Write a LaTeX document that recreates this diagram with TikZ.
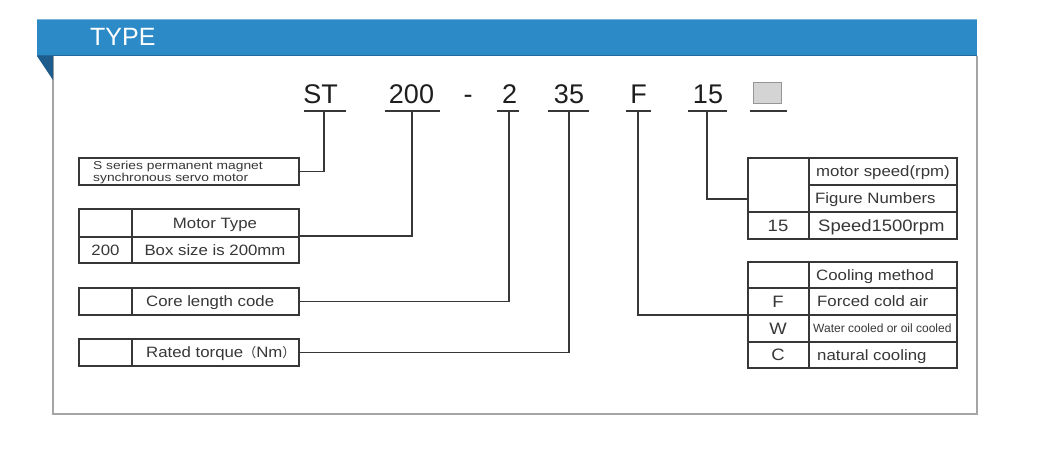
\documentclass[tikz,border=0pt]{standalone}
\usepackage{fontspec}
\setmainfont{Liberation Sans}
\newfontfamily\cellfont[FakeStretch=1.12]{Liberation Sans}
\newfontfamily\narrowfont[FakeStretch=1.2]{Liberation Sans}
\newfontfamily\cjkparen{Noto Sans CJK SC}
\definecolor{band}{RGB}{44,139,199}
\definecolor{bandtop}{RGB}{120,180,220}
\definecolor{banddark}{RGB}{30,92,140}
\definecolor{framegray}{RGB}{165,165,165}
\definecolor{ink}{RGB}{55,55,55}
\definecolor{codeink}{RGB}{30,30,30}
\definecolor{sqfill}{RGB}{212,212,212}
\definecolor{sqdraw}{RGB}{150,150,150}
\begin{document}
\begin{tikzpicture}[x=1pt,y=-1pt,
  ln/.style={draw=ink, line width=1.1pt},
  cellbox/.style={draw=ink, line width=1.1pt, inner sep=0pt, minimum width=220pt},
  codetxt/.style={font=\fontsize{27}{30}\selectfont, text=codeink, anchor=base, inner sep=0pt},
  celltxt/.style={font=\cellfont\fontsize{15}{18}\selectfont, text=ink, inner sep=0pt, text height=10.7pt, text depth=0pt},
  bigtxt/.style={font=\cellfont\fontsize{16.5}{19}\selectfont, text=ink, inner sep=0pt, text height=11.8pt, text depth=0pt},
  ul/.style={draw=ink, line width=1.1pt}]
\useasboundingbox (0,0) rectangle (1059,456);
\fill[white] (0,0) rectangle (1059,456);
% frame
\draw[framegray, line width=1.3pt] (53,56) -- (53,414) -- (977,414) -- (977,56);
% band
\fill[band] (37,19) rectangle (977,56);
\draw[bandtop, line width=0.8pt] (37,19.4) -- (977,19.4);
\draw[banddark!70!band, line width=0.8pt] (37,55.6) -- (977,55.6);
\fill[banddark] (37,56) -- (53,56) -- (53,80) -- cycle;
\node[font=\fontsize{25}{28}\selectfont, text=white, anchor=base west, inner sep=0pt] (title) at (90,45) {TYPE};

% code letters
\node[codetxt] (cST) at (320.5,103) {ST};
\node[codetxt] (c200) at (411.5,103) {200};
\node[codetxt] (cdash) at (468,103) {-};
\node[codetxt] (c2) at (509.5,103) {2};
\node[codetxt] (c35) at (569,103) {35};
\node[codetxt] (cF) at (638.5,103) {F};
\node[codetxt] (c15) at (708,103) {15};
\node[draw=sqdraw, fill=sqfill, line width=1pt, minimum width=28pt, minimum height=21pt, inner sep=0pt] (csq) at (767,92.5) {};

% underlines
\draw[ul] (304,111) -- (346,111);
\draw[ul] (385,111) -- (440,111);
\draw[ul] (497,111) -- (519,111);
\draw[ul] (548,111) -- (589,111);
\draw[ul] (626,111) -- (651,111);
\draw[ul] (688,111) -- (727,111);
\draw[ul] (750,111) -- (787,111);
\coordinate (uST) at (324,111);
\coordinate (u200) at (412,111);
\coordinate (u2) at (509,111);
\coordinate (u35) at (569,111);
\coordinate (uF) at (638,111);
\coordinate (u15) at (707,111);

% left box 1
\node[cellbox, minimum height=27pt] (t1) at (189,171.5) {};
\node[font=\narrowfont\fontsize{11.5}{10}\selectfont, text=ink, anchor=west, align=left, inner sep=0pt] (t1txt) at (93,172.5) {S series permanent magnet\\synchronous servo motor};

% left box 2 (Motor Type)
\node[cellbox, minimum height=54pt] (t2) at (189,236) {};
\draw[ln] (79,237) -- (299,237);
\draw[ln] (132,209) -- (132,263);
\node[celltxt] (t2h) at (215,223) {Motor Type};
\node[celltxt] (t2c) at (105.5,250) {200};
\node[celltxt] (t2d) at (215,250) {Box size is 200mm};

% left box 3 (Core length)
\node[cellbox, minimum height=27pt] (t3) at (189,301.5) {};
\draw[ln] (132,288) -- (132,315);
\node[celltxt, anchor=west] (t3d) at (146,301.5) {Core length code};

% left box 4 (Rated torque)
\node[cellbox, minimum height=27pt] (t4) at (189,352.5) {};
\draw[ln] (132,339) -- (132,366);
\node[celltxt, anchor=west] (t4d) at (146,352.5) {Rated torque{\cjkparen\fontsize{13}{15}\selectfont （}Nm{\cjkparen\fontsize{13}{15}\selectfont ）}};

% right table: speed
\node[draw=ink, line width=1.1pt, inner sep=0pt, minimum width=209pt, minimum height=81pt] (ts) at (852.5,198.5) {};
\draw[ln] (809,158) -- (809,239);
\draw[ln] (809,185) -- (957,185);
\draw[ln] (748,212) -- (957,212);
\coordinate (tsin) at (748,199);
\node[celltxt, anchor=west] (tsh) at (816,171.5) {motor speed(rpm)};
\node[celltxt, anchor=west] (tsf) at (815,198.5) {Figure Numbers};
\node[bigtxt] (tsc) at (778,225.5) {15};
\node[bigtxt, anchor=west] (tsd) at (818,225.5) {Speed1500rpm};

% right table: cooling
\node[draw=ink, line width=1.1pt, inner sep=0pt, minimum width=209pt, minimum height=106pt] (tc) at (852.5,315) {};
\draw[ln] (809,262) -- (809,368);
\draw[ln] (748,288) -- (957,288);
\draw[ln] (748,315) -- (957,315);
\draw[ln] (748,342) -- (957,342);
\coordinate (tcin) at (748,315);
\node[celltxt, anchor=west] (tch) at (816,275) {Cooling method};
\node[bigtxt] (tcF) at (778,301.5) {F};
\node[celltxt, anchor=west] (tcFd) at (817,301.5) {Forced cold air};
\node[bigtxt] (tcW) at (778,328.5) {W};
\node[font=\fontsize{12}{14}\selectfont, text=ink, inner sep=0pt, anchor=west, text height=8.6pt, text depth=0pt] (tcWd) at (813,328.5) {Water cooled or oil cooled};
\node[bigtxt] (tcC) at (778,355) {C};
\node[celltxt, anchor=west] (tcCd) at (817,355) {natural cooling};

% connectors
\draw[ln] (uST) |- (t1.east);
\draw[ln] (u200) |- (t2.east);
\draw[ln] (u2) |- (t3.east);
\draw[ln] (u35) |- (t4.east);
\draw[ln] (uF) |- (tcin);
\draw[ln] (u15) |- (tsin);
\end{tikzpicture}
\end{document}
